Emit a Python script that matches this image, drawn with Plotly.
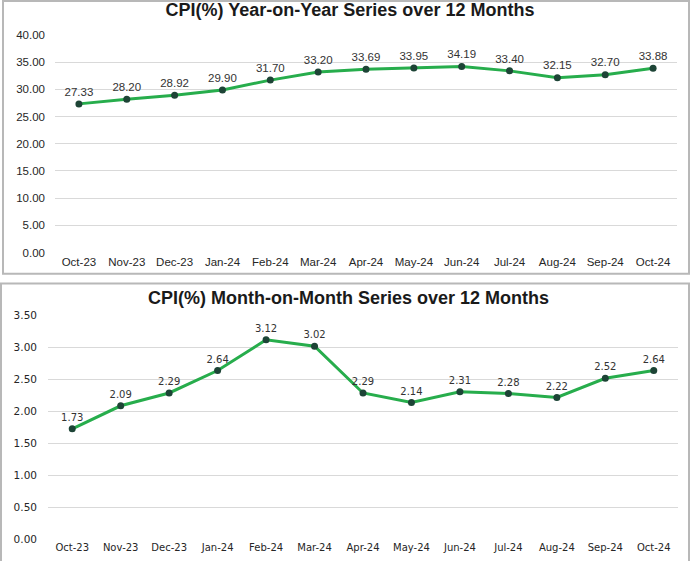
import plotly.graph_objects as go

months = ["Oct-23", "Nov-23", "Dec-23", "Jan-24", "Feb-24", "Mar-24", "Apr-24",
          "May-24", "Jun-24", "Jul-24", "Aug-24", "Sep-24", "Oct-24"]
yoy = [27.33, 28.20, 28.92, 29.90, 31.70, 33.20, 33.69, 33.95, 34.19, 33.40, 32.15, 32.70, 33.88]
mom = [1.73, 2.09, 2.29, 2.64, 3.12, 3.02, 2.29, 2.14, 2.31, 2.28, 2.22, 2.52, 2.64]
yoy_ticks = [0, 5, 10, 15, 20, 25, 30, 35, 40]
mom_ticks = [0, 0.5, 1.0, 1.5, 2.0, 2.5, 3.0, 3.5]

W, H = 696, 561
LINE = "#27ad4c"
MARK = "#1d4436"
GRID = "#d9d9d9"
FONT = "Liberation Sans, Arial, sans-serif"
WIDE = "DejaVu Sans, Verdana, sans-serif"

fig = go.Figure()
fig.add_trace(go.Scatter(
    x=months, y=yoy, xaxis="x", yaxis="y", mode="lines+markers+text",
    line=dict(color=LINE, width=3), marker=dict(color=MARK, size=7),
    text=[f"{v:.2f}" for v in yoy], textposition="top center",
    textfont=dict(size=11.5, color="#333333", family=FONT), cliponaxis=False,
    showlegend=False))
fig.add_trace(go.Scatter(
    x=months, y=mom, xaxis="x2", yaxis="y2", mode="lines+markers+text",
    line=dict(color=LINE, width=3), marker=dict(color=MARK, size=7),
    text=[f"{v:.2f}" for v in mom], textposition="top center",
    textfont=dict(size=10, color="#333333", family=WIDE), cliponaxis=False,
    showlegend=False))

def px_x(p):
    return p / W

def px_y(p):
    return 1 - p / H

common = dict(showline=False, zeroline=False, ticks="")

fig.update_layout(
    width=W, height=H, margin=dict(l=0, r=0, t=0, b=0),
    paper_bgcolor="white", plot_bgcolor="white",
    font=dict(family=FONT),
    title=dict(text="<b>CPI(%) Year-on-Year Series over 12 Months</b>",
               x=px_x(350), xanchor="center", xref="container",
               y=px_y(10), yanchor="middle", yref="container",
               font=dict(size=18, color="#1a1a1a", family=FONT)),
    xaxis=dict(domain=[px_x(55), px_x(677)], anchor="y", type="category",
               range=[-0.5, 12.5], showgrid=False,
               tickfont=dict(size=11.5, color="#262626", family=FONT), **common),
    yaxis=dict(domain=[px_y(252), px_y(29)], anchor="x", range=[-0.1, 40.1],
               tickvals=yoy_ticks, tickformat=".2f", showgrid=True,
               gridcolor=GRID, gridwidth=1, ticklabelstandoff=9,
               tickfont=dict(size=11.5, color="#262626", family=FONT), **common),
    xaxis2=dict(domain=[px_x(48), px_x(678)], anchor="y2", type="category",
                range=[-0.5, 12.5], showgrid=False,
                tickfont=dict(size=10, color="#262626", family=WIDE), **common),
    yaxis2=dict(domain=[px_y(545), px_y(315)], anchor="x2", range=[-0.01, 3.51],
                tickvals=mom_ticks, tickformat=".2f", showgrid=True,
                gridcolor=GRID, gridwidth=1, ticklabelstandoff=10,
                tickfont=dict(size=10.5, color="#262626", family=WIDE), **common),
)

fig.add_annotation(text="<b>CPI(%) Month-on-Month Series over 12 Months</b>",
                   xref="paper", yref="paper", x=px_x(348), y=px_y(298),
                   yanchor="middle", showarrow=False,
                   font=dict(size=18, color="#1a1a1a", family=FONT))

# frames
fig.add_shape(type="rect", xref="paper", yref="paper",
              x0=px_x(3), x1=px_x(689), y0=px_y(273), y1=px_y(-5),
              line=dict(color="#b8b8b8", width=2), layer="below")
fig.add_shape(type="rect", xref="paper", yref="paper",
              x0=px_x(1), x1=px_x(689), y0=px_y(570), y1=px_y(283),
              line=dict(color="#b8b8b8", width=2), layer="below")

fig.write_html("out.html")
